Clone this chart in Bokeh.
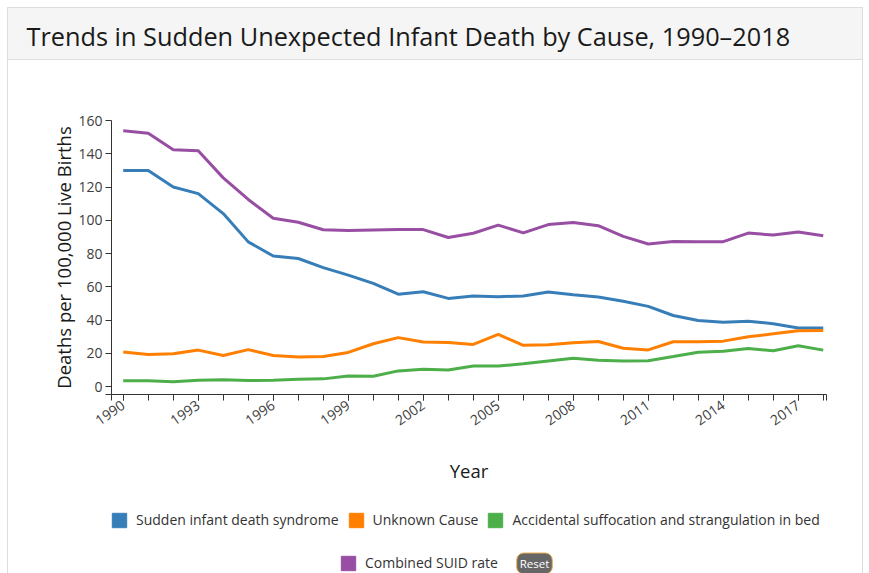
from bokeh.plotting import figure
from bokeh.layouts import column
from bokeh.models import Range1d, Legend, LegendItem, FixedTicker, Label
from bokeh.embed import file_html
from bokeh.resources import INLINE

# ---------------- data ----------------
years = [1990, 1991, 1992, 1993, 1994, 1995, 1996, 1997, 1998, 1999,
         2000, 2001, 2002, 2003, 2004, 2005, 2006, 2007, 2008, 2009,
         2010, 2011, 2012, 2013, 2014, 2015, 2016, 2017, 2018]
sids = [130, 130, 120, 116, 104, 87, 78.5, 77, 71.5, 67,
        62, 55.5, 57, 53, 54.5, 54, 54.5, 56.8, 55.2, 53.8,
        51.3, 48.2, 42.7, 39.7, 38.6, 39.3, 37.8, 35.2, 35.2]
unknown = [20.8, 19.3, 19.7, 21.9, 18.7, 22.2, 18.7, 17.8, 18.1, 20.5,
           25.7, 29.4, 26.8, 26.5, 25.3, 31.3, 24.8, 25.1, 26.3, 27.1,
           23.0, 22.0, 26.9, 26.9, 27.3, 29.9, 31.7, 33.6, 33.7]
asscb = [3.4, 3.4, 2.9, 3.7, 4.0, 3.6, 3.8, 4.3, 4.6, 6.3,
         6.2, 9.4, 10.4, 10.0, 12.3, 12.3, 13.7, 15.4, 17.0, 15.8,
         15.4, 15.5, 18.0, 20.6, 21.2, 22.9, 21.5, 24.5, 21.9]
combined = [153.8, 152.4, 142.4, 141.8, 125.5, 112.5, 101.2, 98.8, 94.3, 93.8,
            94.2, 94.5, 94.4, 89.6, 92.2, 97.1, 92.4, 97.4, 98.6, 96.7,
            90.3, 85.7, 87.2, 87.0, 87.1, 92.3, 91.1, 92.9, 90.7]
series_names = ["Sudden infant death syndrome", "Unknown Cause",
                "Accidental suffocation and strangulation in bed", "Combined SUID rate"]
series_colors = ["#377eb8", "#ff7f00", "#4daf4a", "#984ea3"]
x_tick_labels = ["1990", "1993", "1996", "1999", "2002", "2005", "2008", "2011", "2014", "2017"]
y_ticks = [0, 20, 40, 60, 80, 100, 120, 140, 160]
title_text = "Trends in Sudden Unexpected Infant Death by Cause, 1990\u20132018"

FONT = "Open Sans"
W = 869
H0, H1, H2 = 60, 440, 73
BL, BR = 111, 43

panel_bg = ("linear-gradient(#dddddd,#dddddd) 7px 7px / 856px 1px no-repeat, "
            "linear-gradient(#dddddd,#dddddd) 7px 7px / 1px 566px no-repeat, "
            "linear-gradient(#dddddd,#dddddd) 862px 7px / 1px 566px no-repeat, "
            "linear-gradient(#dddddd,#dddddd) 7px 59px / 856px 1px no-repeat, "
            "linear-gradient(#f5f5f5,#f5f5f5) 7px 7px / 856px 52px no-repeat, "
            "#ffffff")

# ---------------- header (title) ----------------
h = figure(width=W, height=H0, toolbar_location=None, output_backend="svg",
           min_border_left=BL, min_border_right=BR, min_border_top=H0 - 8,
           min_border_bottom=0, x_axis_location=None, y_axis_location=None,
           outline_line_color=None, border_fill_alpha=0, background_fill_alpha=0)
h.grid.visible = False
h.title.text = title_text
h.title.align = "left"
h.title.offset = -85
h.title.standoff = 0
h.title.text_font = FONT
h.title.text_font_size = "25.3px"
h.title.text_font_style = "normal"
h.title.text_color = "#1a1a1a"

# ---------------- main plot ----------------
x0, x1 = 1989.53, 2018.13
y0, y1 = -4.8, 160
p = figure(width=W, height=H1, x_range=Range1d(x0, x1), y_range=Range1d(y0, y1),
           toolbar_location=None, output_backend="svg", title=None,
           min_border_left=BL, min_border_right=BR, min_border_top=120 - H0,
           min_border_bottom=H0 + H1 - 394, outline_line_color=None,
           border_fill_alpha=0, background_fill_alpha=0)
p.grid.visible = False

all_series = [sids, unknown, asscb, combined]
for vals, col in zip(all_series, series_colors):
    p.line(years, vals, line_color=col, line_width=3)

xa = p.xaxis[0]
xa.ticker = FixedTicker(ticks=[int(t) for t in x_tick_labels],
                        minor_ticks=years + [x0, x1])
xa.major_label_overrides = {int(t): t for t in x_tick_labels}
xa.major_label_orientation = 0.61
xa.axis_label = "Year"
ya = p.yaxis[0]
ya.ticker = FixedTicker(ticks=y_ticks, minor_ticks=[y0])
ya.axis_label = "Deaths per 100,000 Live Births"
for ax in (xa, ya):
    ax.axis_line_color = "#333333"
    ax.major_tick_line_color = "#333333"
    ax.minor_tick_line_color = "#333333"
    ax.major_tick_in = 0
    ax.major_tick_out = 6
    ax.minor_tick_in = 0
    ax.minor_tick_out = 6
    ax.major_label_text_font = FONT
    ax.major_label_text_font_size = "14px"
    ax.major_label_text_color = "#404040"
    ax.axis_label_text_font = FONT
    ax.axis_label_text_font_size = "18.5px"
    ax.axis_label_text_font_style = "normal"
    ax.axis_label_text_color = "#1a1a1a"
ya.major_label_standoff = 3
ya.axis_label_standoff = -1
xa.major_label_standoff = 3
xa.axis_label_standoff = 25

# ---------------- bottom strip: legend rows + Reset ----------------
q = figure(width=W, height=H2, x_range=Range1d(BL, W - BR), y_range=Range1d(H2, 0),
           toolbar_location=None, output_backend="svg", title=None,
           min_border_left=BL, min_border_right=BR, min_border_top=0, min_border_bottom=0,
           x_axis_location=None, y_axis_location=None, outline_line_color=None,
           border_fill_alpha=0, background_fill_alpha=0)
q.grid.visible = False

nan = float("nan")
swatches = []
for name, col in zip(series_names, series_colors):
    r = q.quad(left=[nan], right=[nan], top=[nan], bottom=[nan],
               fill_color=col, line_color=col)
    swatches.append(LegendItem(label=name, renderers=[r]))

legend_style = dict(orientation="horizontal", glyph_width=18, glyph_height=18,
                    label_standoff=8, spacing=8, padding=0, margin=0,
                    border_line_color=None, background_fill_alpha=0,
                    label_text_font=FONT, label_text_font_size="14px",
                    label_text_color="#333333", label_height=18)
q.add_layout(Legend(items=swatches[:3], location=(-1, 44), **legend_style))
q.add_layout(Legend(items=swatches[3:], location=(228, 1), **legend_style))
q.add_layout(Label(x=534, y=63, text="Reset", text_font=FONT, text_font_size="11.5px",
                   text_color="white", text_align="center", text_baseline="middle",
                   background_fill_color="#666666", border_line_color="#f0ad4e",
                   border_line_width=1, padding=3, border_radius=7))

layout = column(h, p, q, styles={"background": panel_bg})
open("out.html", "w").write(file_html(layout, INLINE))
